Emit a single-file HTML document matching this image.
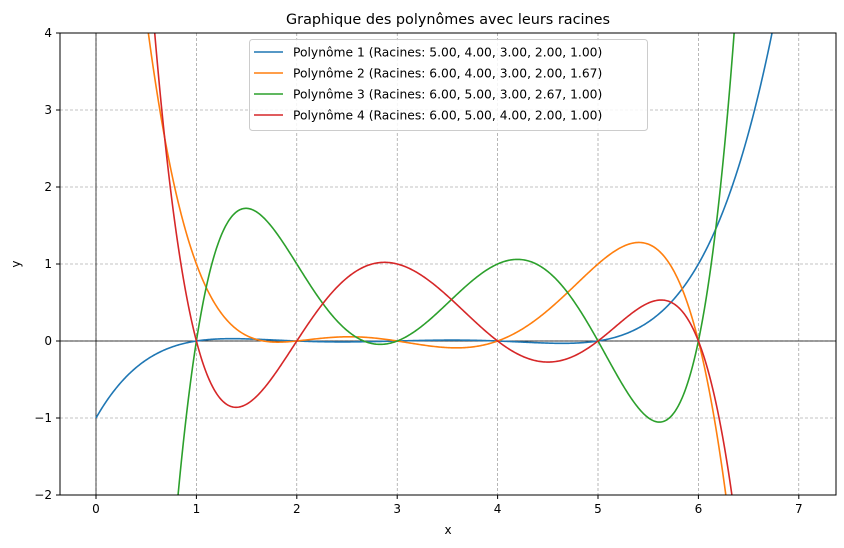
<!DOCTYPE html>
<html><head><meta charset="utf-8"><style>
html,body{margin:0;padding:0;background:#fff;overflow:hidden;width:844px;height:548px}
svg{display:block}
svg text{font-family:"DejaVu Sans","Liberation Sans",sans-serif}
</style></head><body>
<svg id="chart" width="844" height="548" xmlns="http://www.w3.org/2000/svg"></svg>
<script>
const xTicks=[0,1,2,3,4,5,6,7];
const yTicks=[-2,-1,0,1,2,3,4];
const roots1=[5,4,3,2,1];
const roots2=[6,4,3,2,5/3];
const roots3=[6,5,3,8/3,1];
const roots4=[6,5,4,2,1];
const scales=[1/120,-1/20,1/8,-1/12];
const colors=['#1f77b4','#ff7f0e','#2ca02c','#d62728'];
const labels=['Polynôme 1 (Racines: 5.00, 4.00, 3.00, 2.00, 1.00)','Polynôme 2 (Racines: 6.00, 4.00, 3.00, 2.00, 1.67)','Polynôme 3 (Racines: 6.00, 5.00, 3.00, 2.67, 1.00)','Polynôme 4 (Racines: 6.00, 5.00, 4.00, 2.00, 1.00)'];
const allRoots=[roots1,roots2,roots3,roots4];
const L=60,R=836,T=33,B=495;
const xMin=-0.3586,xMax=7.3705,yMin=-2,yMax=4;
const sx=x=>L+(x-xMin)/(xMax-xMin)*(R-L);
const sy=y=>B-(y-yMin)/(yMax-yMin)*(B-T);
const svg=document.getElementById('chart');
const NS='http://www.w3.org/2000/svg';
function mk(tag,attrs,parent){const e=document.createElementNS(NS,tag);for(const k in attrs)e.setAttribute(k,attrs[k]);(parent||svg).appendChild(e);return e;}
const defs=mk('defs',{});const cp=mk('clipPath',{id:'clip'},defs);mk('rect',{x:L,y:T,width:R-L,height:B-T},cp);
xTicks.forEach(v=>{const g=mk('line',{x1:sx(v),x2:sx(v),y1:T,y2:B,stroke:'#888','stroke-width':0.6,'stroke-dasharray':'3,2'});

mk('line',{x1:sx(v),x2:sx(v),y1:B,y2:B+4,stroke:'#000'});
const t=mk('text',{x:sx(v),y:B+18,'font-size':12,'text-anchor':'middle'});t.textContent=v;
});
yTicks.forEach(v=>{const g=mk('line',{x1:L,x2:R,y1:sy(v),y2:sy(v),stroke:'#888','stroke-width':0.6,'stroke-dasharray':'3,2'});

mk('line',{x1:L-4,x2:L,y1:sy(v),y2:sy(v),stroke:'#000'});
const t=mk('text',{x:L-8,y:sy(v)+4,'font-size':12,'text-anchor':'end'});t.textContent=(v<0?'−'+(-v):v);
});
mk('line',{x1:L,x2:R,y1:sy(0),y2:sy(0),stroke:'#000','stroke-width':0.7});
mk('line',{x1:sx(0),x2:sx(0),y1:T,y2:B,stroke:'#000','stroke-width':0.7});
allRoots.forEach((rs,i)=>{let d='';for(let k=0;k<=700;k++){const x=k/100;let y=scales[i];rs.forEach(r=>y*=(x-r));y=Math.max(yMin-0.1,Math.min(yMax+0.1,y));d+=(k?'L':'M')+sx(x).toFixed(2)+','+sy(y).toFixed(2);}
const p=mk('path',{d:d,fill:'none',stroke:colors[i],'stroke-width':1.6,'clip-path':'url(#clip)'});
});
const frame=mk('rect',{x:L,y:T,width:R-L,height:B-T,fill:'none',stroke:'#000','stroke-width':1});

const lg=mk('g',{});
mk('rect',{x:249.5,y:39.5,width:398,height:91,rx:3,fill:'#fff','fill-opacity':0.85,stroke:'#ccc'},lg);
labels.forEach((s,i)=>{const y=52+i*21;mk('line',{x1:254,x2:283,y1:y,y2:y,stroke:colors[i],'stroke-width':1.6},lg);
const t=mk('text',{x:293,y:y+4.5,'font-size':12.3},lg);t.textContent=s;
});
const title=mk('text',{x:448,y:24,'font-size':14.4,'text-anchor':'middle'});title.textContent='Graphique des polynômes avec leurs racines';

const xl=mk('text',{x:448,y:534,'font-size':12,'text-anchor':'middle'});xl.textContent='x';

const yl=mk('text',{x:20,y:264,'font-size':12,'text-anchor':'middle',transform:'rotate(-90 20 264)'});yl.textContent='y';

</script>
</body></html>
